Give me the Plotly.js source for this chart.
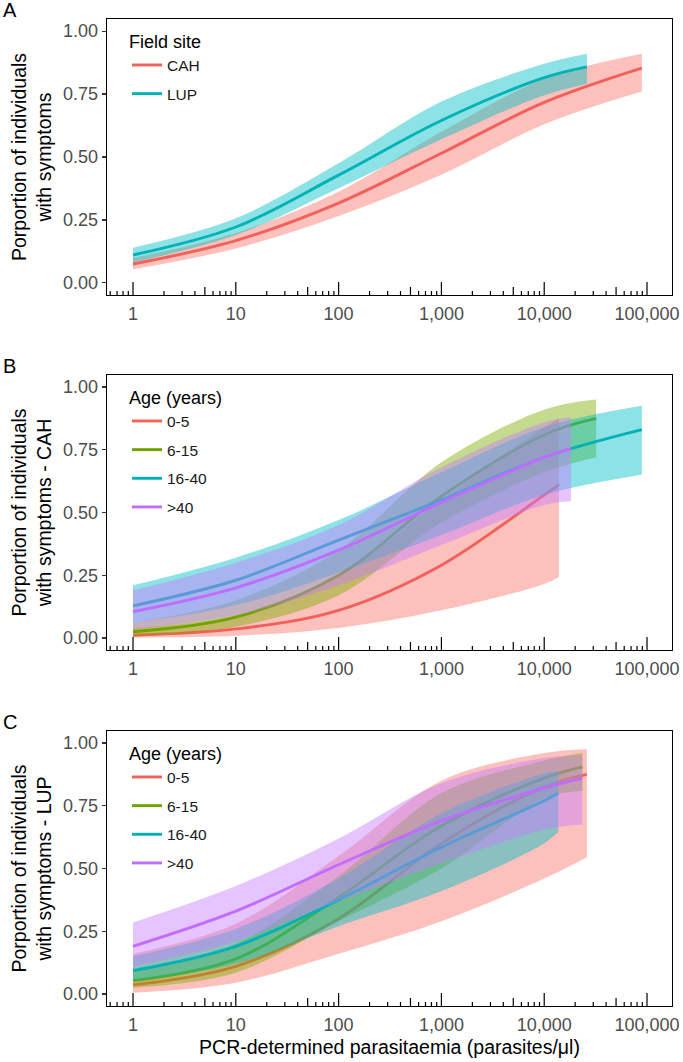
<!DOCTYPE html>
<html><head><meta charset="utf-8">
<script src="https://cdn.plot.ly/plotly-3.0.1.min.js"></script>
<style>html,body{margin:0;padding:0;background:#fff}#chart{width:683px;height:1062px}</style>
</head><body><div id="chart"></div>
<script>
// ---------------- DATA ----------------
const xTickVals = [1, 10, 100, 1000, 10000, 100000];
const xTickText = ['1', '10', '100', '1,000', '10,000', '100,000'];
const yTickVals = [0, 0.25, 0.5, 0.75, 1];
const yTickText = ['0.00', '0.25', '0.50', '0.75', '1.00'];

// Panel A – field site
const siteNames = ['CAH', 'LUP'];
const cahX   = [1, 10, 100, 1000, 10000, 89000];
const cahFit = [0.075, 0.168, 0.317, 0.515, 0.717, 0.853];
const cahLo  = [0.054, 0.137, 0.266, 0.43, 0.63, 0.76];
const cahHi  = [0.099, 0.198, 0.362, 0.60, 0.81, 0.91];
const lupX   = [1, 10, 100, 1000, 10000, 26000];
const lupFit = [0.111, 0.222, 0.428, 0.645, 0.815, 0.858];
const lupLo  = [0.081, 0.19, 0.376, 0.57, 0.745, 0.79];
const lupHi  = [0.140, 0.257, 0.475, 0.72, 0.87, 0.91];

// Panel B – age groups, CAH
const ageNames = ['0-5', '6-15', '16-40', '>40'];
const bAge1X   = [1, 10, 100, 1000, 10000, 13900];
const bAge1Fit = [0.011, 0.036, 0.11, 0.29, 0.57, 0.61];
const bAge1Lo  = [0.002, 0.009, 0.04, 0.11, 0.215, 0.243];
const bAge1Hi  = [0.04, 0.09, 0.25, 0.55, 0.84, 0.875];
const bAge2X   = [1, 10, 100, 1000, 10000, 32000];
const bAge2Fit = [0.025, 0.083, 0.25, 0.565, 0.81, 0.875];
const bAge2Lo  = [0.01, 0.045, 0.17, 0.46, 0.66, 0.72];
const bAge2Hi  = [0.06, 0.15, 0.35, 0.70, 0.91, 0.95];
const bAge3X   = [1, 10, 100, 1000, 10000, 89000];
const bAge3Fit = [0.128, 0.23, 0.39, 0.55, 0.72, 0.83];
const bAge3Lo  = [0.06, 0.13, 0.26, 0.41, 0.57, 0.65];
const bAge3Hi  = [0.21, 0.32, 0.47, 0.66, 0.84, 0.925];
const bAge4X   = [1, 10, 100, 1000, 10000, 18200];
const bAge4Fit = [0.105, 0.20, 0.35, 0.54, 0.72, 0.755];
const bAge4Lo  = [0.035, 0.09, 0.21, 0.37, 0.53, 0.545];
const bAge4Hi  = [0.19, 0.30, 0.45, 0.68, 0.86, 0.88];

// Panel C – age groups, LUP
const cAge1X   = [1, 10, 100, 1000, 10000, 26000];
const cAge1Fit = [0.036, 0.11, 0.30, 0.60, 0.825, 0.875];
const cAge1Lo  = [0.005, 0.045, 0.16, 0.29, 0.46, 0.545];
const cAge1Hi  = [0.16, 0.28, 0.55, 0.85, 0.96, 0.975];
const cAge2X   = [1, 10, 100, 1000, 10000, 23500];
const cAge2Fit = [0.053, 0.14, 0.385, 0.67, 0.86, 0.905];
const cAge2Lo  = [0.025, 0.085, 0.29, 0.50, 0.78, 0.81];
const cAge2Hi  = [0.10, 0.20, 0.47, 0.80, 0.93, 0.96];
const cAge3X   = [1, 10, 100, 1000, 10000, 13700];
const cAge3Fit = [0.093, 0.19, 0.375, 0.585, 0.77, 0.80];
const cAge3Lo  = [0.05, 0.12, 0.27, 0.41, 0.60, 0.645];
const cAge3Hi  = [0.15, 0.26, 0.46, 0.72, 0.88, 0.89];
const cAge4X   = [1, 10, 100, 1000, 10000, 23500];
const cAge4Fit = [0.19, 0.33, 0.515, 0.69, 0.82, 0.86];
const cAge4Lo  = [0.11, 0.21, 0.37, 0.52, 0.655, 0.675];
const cAge4Hi  = [0.285, 0.43, 0.62, 0.84, 0.94, 0.95];

// ---------------- STYLE ----------------
const W = 683, H = 1062;
const FONT = 'Liberation Sans, Arial, sans-serif';
const siteColors = ['#F8766D', '#00BFC4'];
const siteLineColors = ['#F2605A', '#00B2B6'];
const ageColors = ['#F8766D', '#7CAE00', '#00BFC4', '#C77CFF'];
const ageLineColors = ['#F2605A', '#6FA300', '#00B2B6', '#BF6CFF'];
function rgba(hex, a) {
  const n = parseInt(hex.slice(1), 16);
  return `rgba(${(n >> 16) & 255},${(n >> 8) & 255},${n & 255},${a})`;
}

const traces = [];
function addSeries(axisIdx, name, color, lineColor, xs, fit, lo, hi, legendId) {
  const xa = axisIdx === 1 ? 'x' : 'x' + axisIdx;
  const ya = axisIdx === 1 ? 'y' : 'y' + axisIdx;
  const grp = legendId + '_' + name;
  traces.push({x: xs, y: lo, xaxis: xa, yaxis: ya, type: 'scatter', mode: 'lines',
    line: {width: 0, shape: 'spline', color: color}, showlegend: false, hoverinfo: 'skip', legendgroup: grp, legend: legendId});
  traces.push({x: xs, y: hi, xaxis: xa, yaxis: ya, type: 'scatter', mode: 'lines', fill: 'tonexty',
    fillcolor: rgba(color, 0.45), line: {width: 0, shape: 'spline', color: color}, showlegend: false, hoverinfo: 'skip', legendgroup: grp, legend: legendId});
  traces.push({x: xs, y: fit, xaxis: xa, yaxis: ya, type: 'scatter', mode: 'lines', name: name,
    line: {width: 2.9, shape: 'spline', color: lineColor}, legendgroup: grp, legend: legendId});
}

addSeries(1, siteNames[0], siteColors[0], siteLineColors[0], cahX, cahFit, cahLo, cahHi, 'legend');
addSeries(1, siteNames[1], siteColors[1], siteLineColors[1], lupX, lupFit, lupLo, lupHi, 'legend');

const bSets = [[bAge1X, bAge1Fit, bAge1Lo, bAge1Hi], [bAge2X, bAge2Fit, bAge2Lo, bAge2Hi],
               [bAge3X, bAge3Fit, bAge3Lo, bAge3Hi], [bAge4X, bAge4Fit, bAge4Lo, bAge4Hi]];
bSets.forEach((s, i) => addSeries(2, ageNames[i], ageColors[i], ageLineColors[i], s[0], s[1], s[2], s[3], 'legend2'));
const cSets = [[cAge1X, cAge1Fit, cAge1Lo, cAge1Hi], [cAge2X, cAge2Fit, cAge2Lo, cAge2Hi],
               [cAge3X, cAge3Fit, cAge3Lo, cAge3Hi], [cAge4X, cAge4Fit, cAge4Lo, cAge4Hi]];
cSets.forEach((s, i) => addSeries(3, ageNames[i], ageColors[i], ageLineColors[i], s[0], s[1], s[2], s[3], 'legend3'));

// ---------------- LAYOUT ----------------
const xDom = [107 / W, 672 / W];
const panelPx = [[19, 295], [375, 650], [731, 1006]];
const xRange = [-0.253, 5.243];
const yRange = [-0.048, 1.048];
const layout = {
  width: W, height: H,
  margin: {l: 0, r: 0, t: 0, b: 0},
  paper_bgcolor: '#fff', plot_bgcolor: '#fff',
  font: {family: FONT, color: '#000'},
  showlegend: true,
  shapes: [], annotations: []
};
const yTitles = ['Porportion of individuals<br>with symptoms',
                 'Porportion of individuals<br>with symptoms - CAH',
                 'Porportion of individuals<br>with symptoms - LUP'];
const legendTitles = ['Field site', 'Age (years)', 'Age (years)'];
const letters = ['A', 'B', 'C'];

panelPx.forEach((p, i) => {
  const n = i + 1;
  const xk = n === 1 ? 'xaxis' : 'xaxis' + n;
  const yk = n === 1 ? 'yaxis' : 'yaxis' + n;
  const yid = n === 1 ? 'y' : 'y' + n;
  const xid = n === 1 ? 'x' : 'x' + n;
  layout[xk] = {
    domain: xDom, anchor: yid, type: 'log', range: xRange,
    tickvals: xTickVals, ticktext: xTickText, ticks: '',
    showline: true, mirror: true, linecolor: '#000', linewidth: 1.3,
    showgrid: false, zeroline: false,
    tickfont: {family: FONT, size: 18, color: '#4d4d4d'},
    ticklabelstandoff: 2
  };
  if (n === 3) {
    layout[xk].title = {text: 'PCR-determined parasitaemia (parasites/μl)', font: {family: FONT, size: 19.5, color: '#000'}, standoff: 6};
  }
  layout[yk] = {
    domain: [1 - p[1] / H, 1 - p[0] / H], anchor: xid, range: yRange,
    tickvals: yTickVals, ticktext: yTickText, ticks: 'outside', ticklen: 4,
    tickcolor: '#333', tickwidth: 1.1,
    showline: true, mirror: true, linecolor: '#000', linewidth: 1.3,
    showgrid: false, zeroline: false,
    tickfont: {family: FONT, size: 18, color: '#4d4d4d'},
    title: {text: yTitles[i], font: {family: FONT, size: 19.5, color: '#000'}, standoff: 6}
  };
  const lk = n === 1 ? 'legend' : 'legend' + n;
  layout[lk] = {
    x: 127 / W, y: 1 - (p[0] + 6) / H, xanchor: 'left', yanchor: 'top',
    bgcolor: 'rgba(0,0,0,0)', borderwidth: 0,
    font: {family: FONT, size: 15.5, color: '#1a1a1a'},
    title: {text: legendTitles[i], font: {family: FONT, size: 18, color: '#000'}},
    tracegroupgap: 5.5, itemwidth: 30
  };
  layout.annotations.push({text: letters[i], xref: 'paper', yref: 'paper', x: 1 / W, y: 1 - (p[0] - 9) / H,
    xanchor: 'left', yanchor: 'middle', showarrow: false, font: {family: FONT, size: 20, color: '#000'}});
  // log ticks (annotation_logticks style), inside the panel from the bottom axis
  for (let d = -1; d <= 5; d++) {
    for (let m = 1; m <= 9; m++) {
      const v = m * Math.pow(10, d);
      const lv = Math.log10(v);
      if (lv < xRange[0] || lv > xRange[1]) continue;
      const len = m === 1 ? 13 : (m === 5 ? 8 : 4);
      layout.shapes.push({type: 'line', xref: xid, yref: yid + ' domain', x0: v, x1: v,
        ysizemode: 'pixel', yanchor: 0, y0: 0, y1: len, layer: 'above',
        line: {color: '#000', width: 1.2}});
    }
  }
});

Plotly.newPlot('chart', traces, layout, {staticPlot: true, displayModeBar: false});
</script></body></html>
